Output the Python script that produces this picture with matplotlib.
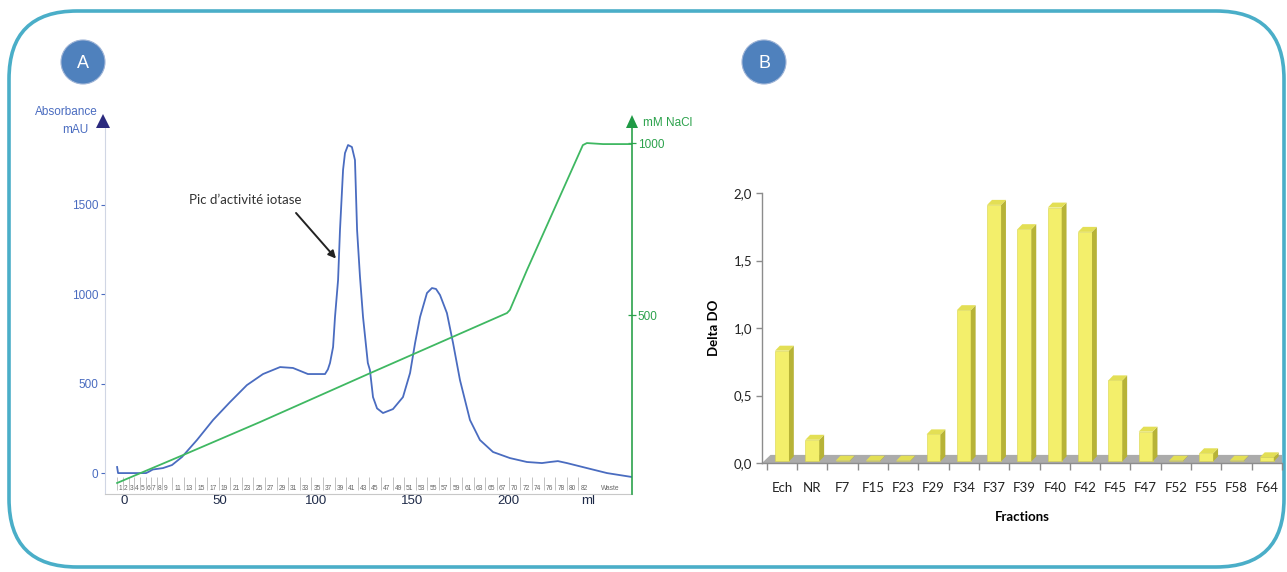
import numpy as np
import matplotlib
matplotlib.use("Agg")
import matplotlib.pyplot as plt
from matplotlib.patches import FancyBboxPatch, Circle, Polygon

# ==========================
# DATA
# ==========================
# panel A : chromatogram (ml, mAU)
uv_ml = [-3.6, -3.1, 4.7, 11.5, 13.0, 15.0, 20.3, 25.0, 30.2, 38.0, 46.4, 55.2, 64.0,
         72.4, 81.3, 88.0, 95.8, 104.7, 106.2, 107.3, 108.9, 109.9, 111.5, 112.5, 114.1,
         115.1, 116.7, 118.7, 120.3, 121.4, 122.9, 124.5, 127.0, 128.1, 129.7, 131.8,
         134.9, 140.1, 145.3, 149.0, 151.6, 154.2, 157.8, 160.4, 162.5, 164.6, 168.2,
         171.4, 175.0, 180.2, 185.4, 192.2, 201.0, 209.9, 217.7, 221.9, 226.0, 230.7,
         241.1, 251.6, 264.6]
uv_mau = [34, 0, 0, 0, 8, 20, 28, 45, 90, 185, 297, 397, 492,
          554, 593, 588, 554, 554, 580, 616, 705, 873, 1080, 1360, 1696,
          1790, 1835, 1824, 1751, 1360, 1100, 873, 616, 576, 425, 362,
          336, 358, 425, 560, 727, 873, 1007, 1035, 1030, 996, 895,
          727, 520, 297, 185, 118, 84, 62, 56, 62, 67, 56,
          28, 0, -22]

# NaCl gradient (ml, mM)
nacl_ml = [-3.6, 30.7, 70.8, 128.1, 199.5, 201.0, 209.9, 239.0, 241.1, 249.5, 264.6]
nacl_mm = [12, 93, 189, 331, 506, 515, 631, 994, 1000, 997, 997]

frac_labels = [str(i) for i in range(1, 10)] + [str(i) for i in range(11, 68, 2)] \
    + [str(i) for i in range(70, 83, 2)] + ["Waste"]

# panel B : activity per fraction
fractions = ["Ech", "NR", "F7", "F15", "F23", "F29", "F34", "F37", "F39",
             "F40", "F42", "F45", "F47", "F52", "F55", "F58", "F64"]
delta_do = [0.82, 0.16, 0.005, 0.005, 0.005, 0.20, 1.12, 1.90, 1.72,
            1.88, 1.70, 0.60, 0.22, 0.005, 0.06, 0.005, 0.03]

W, H = 1287, 572
BLUE = "#4a6cc0"
GREEN = "#3fb862"
GREEN_AX = "#2ca24c"


def fig_box(x0, y_top, x1, y_bot):
    # pixel box -> figure fraction rect
    return [x0 / W, (H - y_bot) / H, (x1 - x0) / W, (y_bot - y_top) / H]


fig = plt.figure(figsize=(W / 100, H / 100), dpi=100)

# background layer in pixel coordinates
bg = fig.add_axes([0, 0, 1, 1], zorder=-5)
bg.set_xlim(0, W)
bg.set_ylim(H, 0)
bg.axis("off")
bg.add_patch(FancyBboxPatch((9, 11), 1275, 556,
                            boxstyle="round,pad=0,rounding_size=68",
                            fc="white", ec="#4aaec8", lw=2.6))
for cx, letter in [(83, "A"), (764, "B")]:
    bg.add_patch(Circle((cx, 62), 22, fc="#4f81bd", ec="#9db3d6", lw=0.8))
    bg.text(cx, 63, letter, color="white", fontsize=13, ha="center", va="center",
            family="Liberation Sans")

bg.text(98, 112, "Absorbance", color="#4a6cc0", fontsize=8.5, ha="right", va="center",
        family="Liberation Sans")
bg.text(88, 130, "mAU", color="#4a6cc0", fontsize=8.5, ha="right", va="center",
        family="Liberation Sans")

# ==========================
# PANEL A
# ==========================
ax = fig.add_axes(fig_box(105, 120, 632, 494))
ax.set_facecolor("none")
ax.plot(uv_ml, uv_mau, color=BLUE, lw=1.3, zorder=3)
ax.set_xlim(-9.9, 264.6)
ax.set_ylim(-117, 1975)

for s in ["top", "right"]:
    ax.spines[s].set_visible(False)
ax.spines["left"].set_color("#d0d6e4")
ax.spines["bottom"].set_color("#c8c8c8")
ax.spines["left"].set_linewidth(0.8)
ax.spines["bottom"].set_linewidth(0.8)

ax.set_yticks([0, 500, 1000, 1500])
ax.tick_params(axis="y", colors=BLUE, labelsize=8.5, length=3, width=0.8, pad=2)
for lab in ax.get_yticklabels():
    lab.set_family("Liberation Sans")
ax.set_xticks([0, 50, 100, 150, 200, 242])
ax.set_xticklabels(["0", "50", "100", "150", "200", "ml"])
ax.tick_params(axis="x", colors="#1e2a48", labelsize=9.5, length=0, pad=1)
for lab in ax.get_xticklabels():
    lab.set_family("Liberation Sans")

# fraction strip along the bottom
frac_pos = np.concatenate([np.linspace(-2.0, 21.4, 9),
                           28.1 + 6.04 * np.arange(29),
                           203.4 + 6.04 * np.arange(7),
                           [253.0]])
trans = ax.get_xaxis_transform()
for lab, p in zip(frac_labels, frac_pos):
    ax.text(p, 0.016, lab, transform=trans, fontsize=4.8, color="#666666",
            ha="center", va="center", family="Liberation Sans")
tick_pos = frac_pos[9:-1] - 3.0
ax.vlines(tick_pos, 0.01, 0.045, transform=trans, color="#b8b8b8", lw=0.6)
ax.vlines(frac_pos[:9] - 1.4, 0.01, 0.045, transform=trans, color="#b8b8b8", lw=0.6)

ax.text(63, 1530, "Pic d\u2019activité iotase", fontsize=9.5, color="#333333",
        ha="center", va="center", family="Lato")
ax.annotate("", xy=(110.4, 1200), xytext=(89.6, 1455),
            arrowprops=dict(arrowstyle="-|>", color="#222222", lw=1.4,
                            mutation_scale=11, shrinkA=0, shrinkB=0))

# NaCl on right axis
ax2 = ax.twinx()
ax2.plot(nacl_ml, nacl_mm, color=GREEN, lw=1.3, zorder=2)
ax2.set_ylim(-20, 1067)
ax2.set_xlim(-9.9, 264.6)
for s in ["top", "left", "bottom"]:
    ax2.spines[s].set_visible(False)
ax2.spines["right"].set_color(GREEN_AX)
ax2.spines["right"].set_linewidth(1.2)
ax2.set_yticks([500, 1000])
ax2.tick_params(axis="y", colors=GREEN_AX, labelsize=8.5, length=6, width=0.9,
                direction="inout", pad=1)
for lab in ax2.get_yticklabels():
    lab.set_family("Liberation Sans")

# axis arrows on top layer
top = fig.add_axes([0, 0, 1, 1], zorder=10)
top.set_xlim(0, W)
top.set_ylim(H, 0)
top.axis("off")
top.add_patch(Polygon([[96, 128], [110, 128], [103, 114]], closed=True,
                      fc="#2b2a7e", ec="none"))
top.add_patch(Polygon([[626, 128], [638, 128], [632, 115]], closed=True,
                      fc="#1f9a45", ec="none"))
top.text(643, 123, "mM NaCl", color=GREEN_AX, fontsize=8.5, ha="left", va="center",
         family="Liberation Sans")

# ==========================
# PANEL B
# ==========================
bx = fig.add_axes(fig_box(762, 193, 1282, 463))
bx.set_facecolor("none")
x = np.arange(len(fractions))
bw = 0.46
ddx, ddy = 0.16, 0.037

xmin, xmax = -0.66, 16.5
bx.add_patch(Polygon([[xmin, 0], [xmax, 0], [xmax + 0.28, 0.06], [xmin + 0.28, 0.06]],
                     closed=True, fc="#ababab", ec="none", zorder=1))

bars = bx.bar(x, delta_do, width=bw, bottom=0.012, color="#f3ef6b",
              edgecolor="#d8d44a", lw=0.4, zorder=3)
for b in bars:
    x0, w = b.get_x(), b.get_width()
    y0, h = b.get_y(), b.get_height()
    top_y = y0 + h
    bx.add_patch(Polygon([[x0 + w, y0], [x0 + w + ddx, y0 + ddy],
                          [x0 + w + ddx, top_y + ddy], [x0 + w, top_y]],
                         closed=True, fc="#b7b337", ec="none", zorder=3))
    bx.add_patch(Polygon([[x0, top_y], [x0 + ddx, top_y + ddy],
                          [x0 + w + ddx, top_y + ddy], [x0 + w, top_y]],
                         closed=True, fc="#e3df55", ec="none", zorder=4))

bx.set_xlim(xmin, xmax)
bx.set_ylim(0, 2.0)
for s in ["top", "right"]:
    bx.spines[s].set_visible(False)
for s in ["left", "bottom"]:
    bx.spines[s].set_color("#8c8c8c")
    bx.spines[s].set_linewidth(1.0)

bx.set_yticks([0, 0.5, 1.0, 1.5, 2.0])
bx.set_yticklabels(["0,0", "0,5", "1,0", "1,5", "2,0"])
bx.tick_params(axis="y", colors="#8c8c8c", labelcolor="#222222", labelsize=9.5,
               length=4, width=1.0, pad=3)
bx.set_xticks(x)
bx.set_xticklabels(fractions)
bx.set_xticks(np.arange(len(fractions) + 1) - 0.5, minor=True)
bx.tick_params(axis="x", which="major", length=0, labelsize=9.5, labelcolor="#222222",
               pad=14)
bx.tick_params(axis="x", which="minor", length=5, width=1.0, colors="#8c8c8c")
for lab in bx.get_xticklabels() + bx.get_yticklabels():
    lab.set_family("Lato")

bx.set_ylabel("Delta DO", fontsize=9.5, fontweight="bold", family="Lato", labelpad=10)
bx.set_xlabel("Fractions", fontsize=9.5, fontweight="bold", family="Lato", labelpad=12)

fig.savefig("out.png", dpi=100)
